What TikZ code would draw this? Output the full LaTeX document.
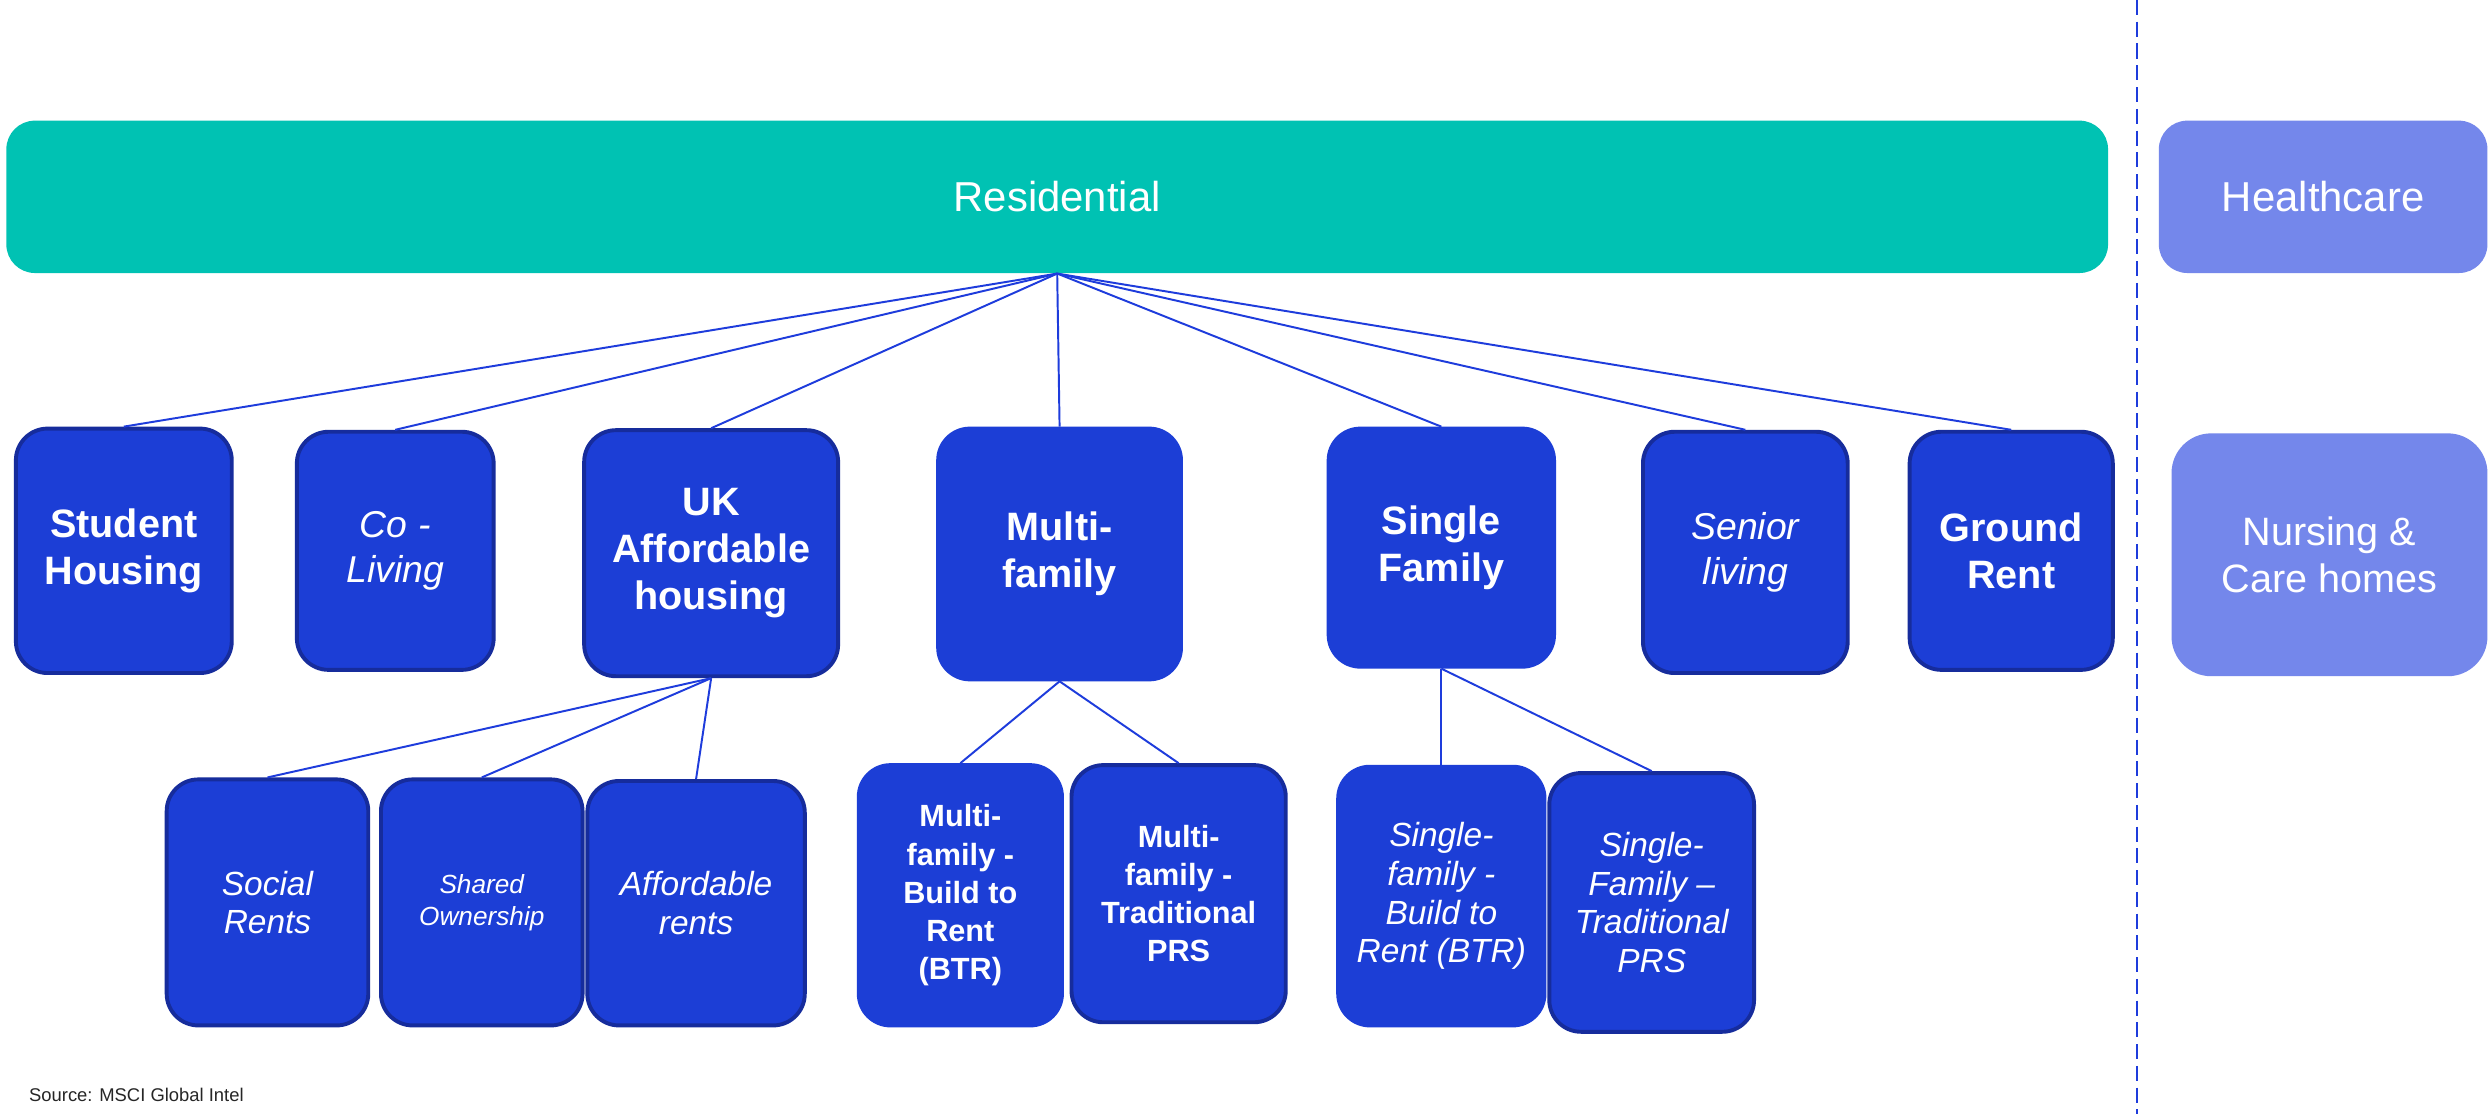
\documentclass[tikz,border=0pt]{standalone}
\usepackage{fontspec}
\setmainfont{Liberation Sans}
\usepackage{tikz}

\definecolor{resteal}{RGB}{0,194,179}
\definecolor{boxblue}{RGB}{28,62,214}
\definecolor{boxedge}{RGB}{22,44,156}
\definecolor{hcblue}{RGB}{116,135,235}
\definecolor{linkblue}{RGB}{30,60,220}

\tikzstyle{catbox}=[rectangle,rounded corners=0.4cm,fill=boxblue,line width=1.4pt,inner sep=0pt,align=center,text=white]
\tikzstyle{topbox}=[rectangle,rounded corners=0.36cm,inner sep=0pt,align=center,text=white,font=\fontsize{15}{18}\selectfont]
\tikzstyle{link}=[draw=linkblue,line width=0.7pt]
\tikzstyle{divider}=[draw=linkblue,line width=0.8pt,dash pattern=on 5.4pt off 2.4pt]

\newcommand{\bigbf}{\fontsize{14.2}{16.8}\selectfont\bfseries}
\newcommand{\bigit}{\fontsize{13.4}{16}\selectfont\itshape}
\newcommand{\smallbf}{\fontsize{11}{13.7}\selectfont\bfseries}
\newcommand{\smallit}{\fontsize{12}{13.9}\selectfont\itshape}
\newcommand{\tinyit}{\fontsize{9.4}{11.4}\selectfont\itshape}

\begin{document}
\begin{tikzpicture}[x=0.02cm, y=-0.02cm]

  \fill[white] (0,0) rectangle (1568,702);
  \useasboundingbox (0,0) rectangle (1568,702);

  \node[topbox,fill=resteal,minimum width=1324*0.02cm,minimum height=96*0.02cm] (res) at (666,124) {Residential};
  \node[topbox,fill=hcblue,minimum width=207*0.02cm,minimum height=96*0.02cm] (hc) at (1463.5,124) {Healthcare};
  \node[topbox,fill=hcblue,rounded corners=0.5cm,font=\fontsize{14.2}{17}\selectfont,minimum width=199*0.02cm,minimum height=153*0.02cm] (nch) at (1467.5,349.5) {Nursing \&\\Care homes};

  \coordinate (divtop) at (1346,0);
  \coordinate (divbot) at (1346,702);
  \draw[divider] (divtop) -- (divbot);

  % second row
  \foreach \cx/\cy/\w/\h/\name/\edge/\fnt/\txt in {
      78/347/136/154/stud/boxedge/\bigbf/{Student\\Housing},
      249/347/124/150/coliv/boxedge/\bigit/{Co -\\Living},
      448/348.5/160/155/ukaff/boxedge/\bigbf/{UK\\Affordable\\housing},
      667.5/349/153/158/multi/boxblue/\bigbf/{Multi-\\family},
      908/345/142/150/single/boxblue/\bigbf/{Single\\Family},
      1099.5/348/129/152/senior/boxedge/\bigit/{Senior\\living},
      1267/347/128/150/ground/boxedge/\bigbf/{Ground\\Rent}}
    \node[catbox,draw=\edge,font=\fnt,minimum width=\w*0.02cm,minimum height=\h*0.02cm] (\name) at (\cx,\cy) {\txt};

  % third row
  \foreach \cx/\cy/\w/\h/\name/\edge/\fnt/\txt in {
      168.5/568.5/127/155/social/boxedge/\smallit/{Social\\Rents},
      303.5/568.5/127/155/shared/boxedge/\tinyit/{Shared\\Ownership},
      438.5/569/137/154/affr/boxedge/\smallit/{Affordable\\rents},
      605/564/128/164/mfbtr/boxblue/\smallbf/{Multi-\\family -\\Build to\\Rent\\(BTR)},
      742.5/563/135/162/mfprs/boxedge/\smallbf/{Multi-\\family -\\Traditional\\PRS},
      908/564.5/130/163/sfbtr/boxblue/\smallit/{Single-\\family -\\Build to\\Rent (BTR)},
      1040.5/568.5/129/163/sfprs/boxedge/\smallit/{Single-\\Family –\\Traditional\\PRS}}
    \node[catbox,draw=\edge,font=\fnt,minimum width=\w*0.02cm,minimum height=\h*0.02cm] (\name) at (\cx,\cy) {\txt};

  \foreach \dest in {stud,coliv,ukaff,multi,single,senior,ground}
    \draw[link] (res.south) -- (\dest.north);
  \foreach \dest in {social,shared,affr}
    \draw[link] (ukaff.south) -- (\dest.north);
  \foreach \dest in {mfbtr,mfprs}
    \draw[link] (multi.south) -- (\dest.north);
  \foreach \dest in {sfbtr,sfprs}
    \draw[link] (single.south) -- (\dest.north);

  \node[anchor=west,inner sep=0pt,text=black!85,font=\fontsize{6.6}{8}\selectfont] (src) at (18,690) {Source: MSCI Global Intel};

\end{tikzpicture}
\end{document}
